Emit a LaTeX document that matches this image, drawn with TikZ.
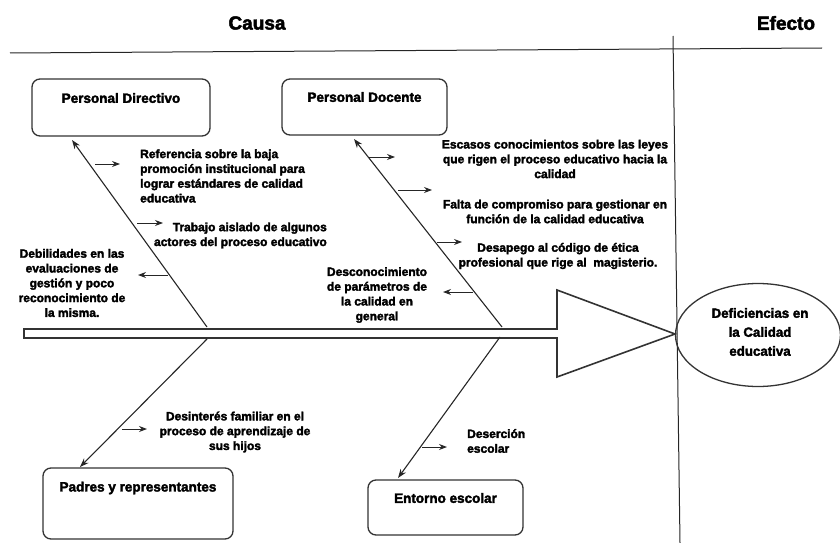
\documentclass[tikz,border=0pt]{standalone}
\usepackage{fontspec}
\setmainfont{Liberation Sans}[BoldFeatures={FakeBold=2.5}]
\usetikzlibrary{arrows.meta,shapes.geometric,calc}
\begin{document}
\begin{tikzpicture}[x=1pt,y=-1pt,
  frame/.style={draw=black!85,line width=1pt},
  box/.style={draw=black!80,line width=1.3pt,rounded corners=8pt,inner sep=0pt},
  title/.style={font=\bfseries\fontsize{13.5}{16}\selectfont,inner sep=0pt,anchor=center},
  head/.style={font=\bfseries\fontsize{19}{22}\selectfont,inner sep=0pt},
  txt/.style={font=\bfseries\fontsize{12}{14.8}\selectfont,inner sep=0pt,align=center},
  bone/.style={draw=black!85,line width=1.1pt,-{Stealth[length=9pt,width=6.5pt]}},
  twig/.style={draw=black!85,line width=1pt,-{Stealth[length=8pt,width=6pt]}},
]
\useasboundingbox (0,0) rectangle (840,543);

% headers and frame lines
\node[head] (causa) at (257,23) {Causa};
\node[head] (efecto) at (786,23) {Efecto};
\coordinate (hl) at (10,53);
\coordinate (hr) at (822,48);
\coordinate (vt) at (673,36);
\coordinate (vb) at (680,543);
\draw[frame] (hl) -- (hr);
\draw[frame] (vt) -- (vb);

% spine arrow
\coordinate (s0) at (24,329);
\coordinate (s1) at (557,329);
\coordinate (s2) at (557,290);
\coordinate (tip) at (675,334);
\coordinate (s3) at (557,377);
\coordinate (s4) at (557,338);
\coordinate (s5) at (24,338);
\draw[draw=black!80,line width=1.6pt,line join=miter] (s0) -- (s1) -- (s2) -- (tip) -- (s3) -- (s4) -- (s5) -- cycle;

% effect
\node[ellipse,draw=black!80,line width=1.3pt,minimum width=165pt,minimum height=103pt,inner sep=0pt] (eff) at (758,335) {};
\node[font=\bfseries\fontsize{13.3}{19}\selectfont,align=center,inner sep=0pt] (efft) at (760,332) {Deficiencias en\\la Calidad\\educativa};

% category boxes
\node[box,minimum width=178pt,minimum height=57pt] (pdir) at (121,107.5) {};
\node[title] (tpdir) at (121,98) {Personal Directivo};
\node[box,minimum width=165pt,minimum height=56pt] (pdoc) at (364.5,107) {};
\node[title] (tpdoc) at (364.5,97) {Personal Docente};
\node[box,minimum width=190pt,minimum height=71pt] (padr) at (138,503.5) {};
\node[title] (tpadr) at (138,488) {Padres y representantes};
\node[box,minimum width=155pt,minimum height=55pt] (ent) at (445.5,507.5) {};
\node[title] (tent) at (445.5,498) {Entorno escolar};

% bones
\coordinate (b1s) at (207,327);
\coordinate (b1e) at (72,140);
\coordinate (b2s) at (502,327);
\coordinate (b2e) at (354,139);
\coordinate (b3s) at (207,339);
\coordinate (b3e) at (80,467);
\coordinate (b4s) at (500,337);
\coordinate (b4e) at (398,478);
\draw[bone] (b1s) -- (b1e);
\draw[bone] (b2s) -- (b2e);
\draw[bone] (b3s) -- (b3e);
\draw[bone] (b4s) -- (b4e);

% cause texts
\node[txt,align=left,anchor=west] (c1) at (140,176) {Referencia sobre la baja\\promoción institucional para\\lograr estándares de calidad\\educativa};
\node[txt,align=right,anchor=east] (c2) at (327,235.5) {Trabajo aislado de algunos\\actores del proceso educativo};
\node[txt] (c3) at (72,283) {Debilidades en las\\evaluaciones de\\gestión y poco\\reconocimiento de\\la misma.};
\node[txt] (c4) at (555,159) {Escasos conocimientos sobre las leyes\\que rigen el proceso educativo hacia la\\calidad};
\node[txt] (c5) at (555,211.5) {Falta de compromiso para gestionar en\\función de la calidad educativa};
\node[txt] (c6) at (558,256) {Desapego al código de ética\\profesional que rige al\ \ magisterio.};
\node[txt] (c7) at (377,295) {Desconocimiento\\de parámetros de\\la calidad en\\general};
\node[txt] (c8) at (235,432) {Desinterés familiar en el\\proceso de aprendizaje de\\sus hijos};
\node[txt,align=left,anchor=west] (c9) at (467,441) {Deserción\\escolar};

% twigs
\coordinate (w1a) at (95,164);  \coordinate (w1b) at (120,164);
\coordinate (w2a) at (137,223); \coordinate (w2b) at (163,223);
\coordinate (w3a) at (168,275); \coordinate (w3b) at (138,275);
\coordinate (w4a) at (368,157); \coordinate (w4b) at (395,157);
\coordinate (w5a) at (398,190); \coordinate (w5b) at (432,190);
\coordinate (w6a) at (437,242); \coordinate (w6b) at (462,242);
\coordinate (w7a) at (473,292); \coordinate (w7b) at (443,292);
\coordinate (w8a) at (122,429); \coordinate (w8b) at (147,429);
\coordinate (w9a) at (422,447); \coordinate (w9b) at (447,447);
\foreach \i in {1,...,9} {\draw[twig] (w\i a) -- (w\i b);}
\end{tikzpicture}
\end{document}
